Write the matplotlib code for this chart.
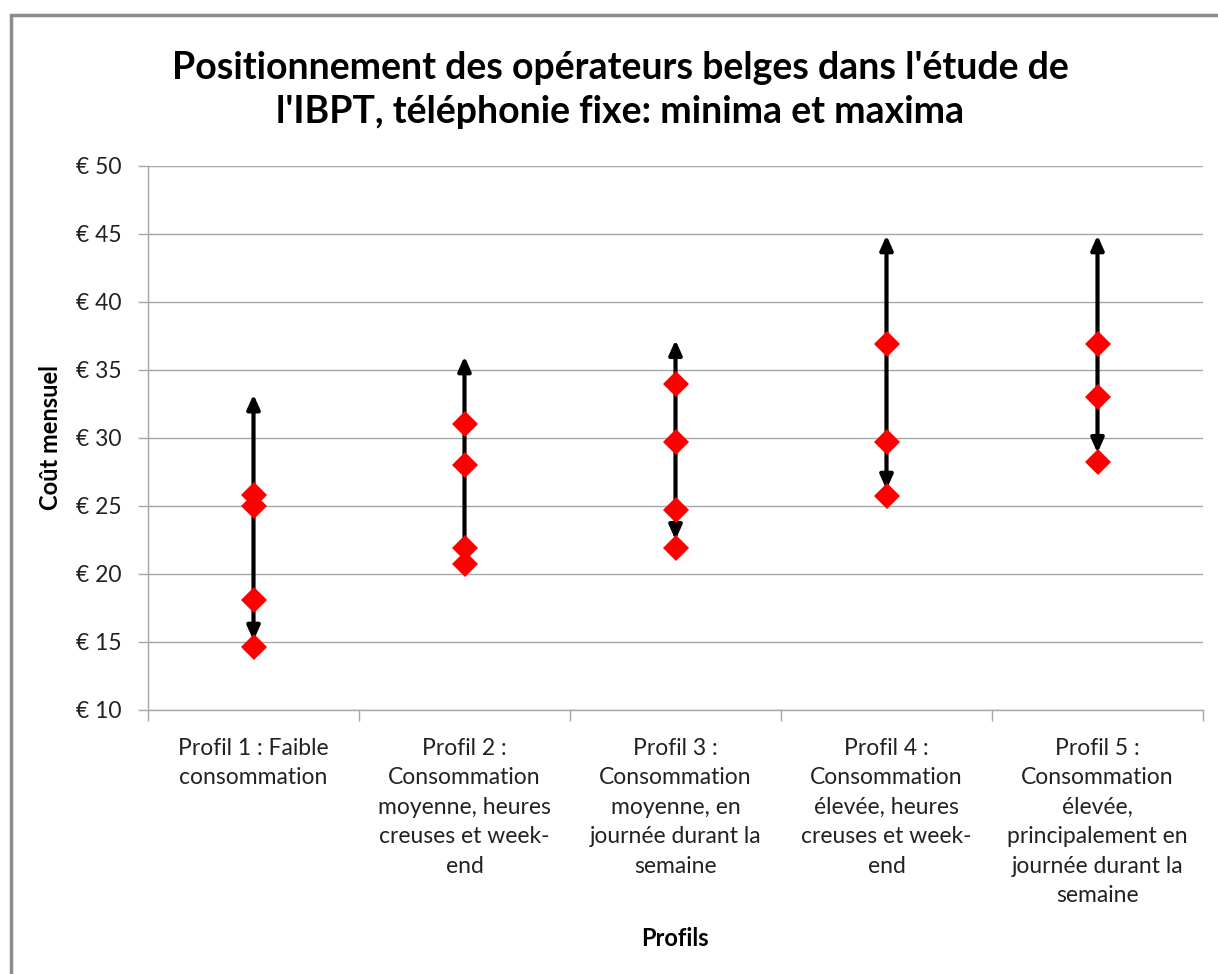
import matplotlib
matplotlib.use("Agg")
import matplotlib.pyplot as plt
from matplotlib.patches import Rectangle
from matplotlib.ticker import FixedLocator, NullFormatter

plt.rcParams["font.family"] = ["Lato", "DejaVu Sans"]

profils = ["Profil 1 : Faible\nconsommation",
           "Profil 2 :\nConsommation\nmoyenne, heures\ncreuses et week-\nend",
           "Profil 3 :\nConsommation\nmoyenne, en\njournée durant la\nsemaine",
           "Profil 4 :\nConsommation\nélevée, heures\ncreuses et week-\nend",
           "Profil 5 :\nConsommation\nélevée,\nprincipalement en\njournée durant la\nsemaine"]
fleche_min = [15.1, 20.9, 22.5, 26.2, 28.9]
fleche_max = [33.2, 36.0, 37.2, 44.9, 44.9]
operateurs = [[25.8, 25.0, 18.1, 14.65],
              [31.0, 28.0, 21.9, 20.7],
              [34.0, 29.7, 24.7, 21.9],
              [36.9, 29.7, 25.7],
              [36.9, 33.0, 28.25]]
yticks = [10, 15, 20, 25, 30, 35, 40, 45, 50]

fig = plt.figure(figsize=(12.18, 9.74), dpi=100)
ax = fig.add_axes([148/1218, 1-710/974, (1203-148)/1218, (710-166)/974])

grid = "#a6a6a6"
for x, lo, hi in zip(range(len(profils)), fleche_min, fleche_max):
    ax.annotate("", xy=(x, hi), xytext=(x, lo),
                arrowprops=dict(arrowstyle="<|-|>,head_length=0.85,head_width=0.38",
                                color="black", lw=3, shrinkA=0, shrinkB=0), zorder=3)
for x, vals in enumerate(operateurs):
    ax.plot([x]*len(vals), vals, linestyle="none", marker="D", markersize=13.5,
            color="#ff0000", markeredgewidth=0, zorder=4)

ax.set_xlim(-0.5, len(profils)-0.5)
ax.set_ylim(10, 50)
ax.set_yticks(yticks)
ax.set_yticklabels([f"€ {v}" for v in yticks])
ax.set_xticks(range(len(profils)))
ax.set_xticklabels(profils, fontsize=16.5, color="#222222", linespacing=1.5, va="top")
ax.xaxis.set_minor_locator(FixedLocator([i - 0.5 for i in range(len(profils)+1)]))
ax.xaxis.set_minor_formatter(NullFormatter())
ax.tick_params(axis="x", which="major", length=0, pad=20)
ax.tick_params(axis="x", which="minor", length=8, color=grid, width=1)
ax.tick_params(axis="y", length=7, color=grid, width=1, labelsize=16.5, pad=12, labelcolor="#222222")
ax.grid(axis="y", color=grid, lw=1)
ax.set_axisbelow(True)
for s in ["top", "right"]:
    ax.spines[s].set_visible(False)
for s in ["left", "bottom"]:
    ax.spines[s].set_color(grid)
    ax.spines[s].set_linewidth(1)

ax.set_ylabel("Coût mensuel", fontsize=17, fontweight="bold", labelpad=10)
fig.text(675/1218, 1-938/974, "Profils", ha="center", va="center", fontsize=17, fontweight="bold")
fig.text(620/1218, 1-90/974,
         "Positionnement des opérateurs belges dans l'étude de\nl'IBPT, téléphonie fixe: minima et maxima",
         ha="center", va="center", fontsize=27, fontweight="bold", linespacing=1.37)

fig.patches.append(Rectangle((11/1218, -0.1), 1.2, 1.1 - 15/974, transform=fig.transFigure,
                             fill=False, edgecolor="#8c8c8c", lw=2.5))

fig.savefig("out.png", dpi=100)
